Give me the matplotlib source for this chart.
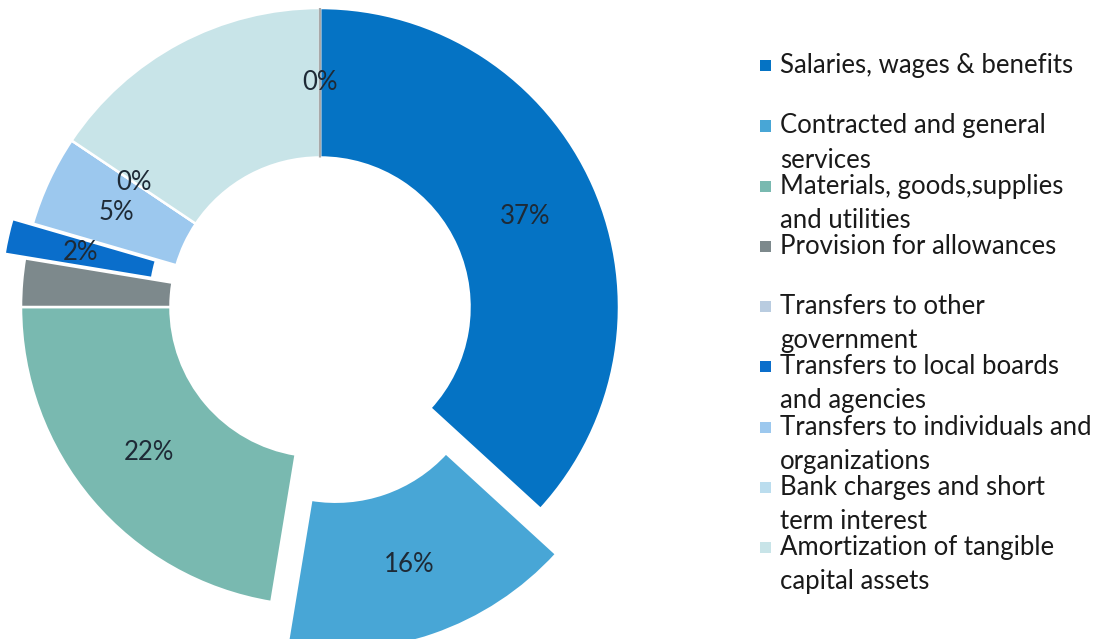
import matplotlib
matplotlib.use('Agg')
import matplotlib.pyplot as plt
from matplotlib.patches import Rectangle
import numpy as np

# ---------------- data ----------------
categories = [
    "Salaries, wages & benefits",
    "Contracted and general\nservices",
    "Materials, goods,supplies\nand utilities",
    "Provision for allowances",
    "Transfers to other\ngovernment",
    "Transfers to local boards\nand agencies",
    "Transfers to individuals and\norganizations",
    "Bank charges and short\nterm interest",
    "Amortization of tangible\ncapital assets",
]
# shares (%)
values = [36.8, 15.8, 22.4, 2.6, 0.0, 1.9, 4.9, 0.0, 15.6]
pct_labels = ["37%", "16%", "22%", "", "0%", "2%", "5%", "0%", ""]
colors = ["#0573C4", "#48A6D6", "#79B9B0", "#7D898C", "#B9CCE0",
          "#0A6ECB", "#9CC8EE", "#BBDDEE", "#C8E4E8"]
explode = [0.0, 0.16, 0.0, 0.0, 0.0, 0.07, 0.0, 0.0, 0.0]
# drawing order of the slices around the ring (clockwise from 12 o'clock)
pie_order = [0, 1, 2, 3, 5, 6, 7, 8, 4]

# ---------------- layout ----------------
W, H = 1102, 639
fig = plt.figure(figsize=(W / 100, H / 100), dpi=100)
fig.patch.set_facecolor("white")

cx, cy, R = 320, H - 307, 299
L = 1.25
ax = fig.add_axes([(cx - L * R) / W, (cy - L * R) / H, 2 * L * R / W, 2 * L * R / H])

wedges, _ = ax.pie(
    [values[i] for i in pie_order],
    colors=[colors[i] for i in pie_order],
    explode=[explode[i] for i in pie_order],
    startangle=90, counterclock=False, radius=1.0,
    wedgeprops=dict(width=0.5, edgecolor="white", linewidth=1.8),
)
# the zero slice at 12 o'clock shows as a thin grey line
wedges[-1].set_edgecolor("#A9A9A9")
wedges[-1].set_linewidth(1.6)

ax.set_xlim(-L, L)
ax.set_ylim(-L, L)
ax.set_aspect("auto")
ax.axis("off")

label_font = "Lato"
for w, i in zip(wedges, pie_order):
    if not pct_labels[i]:
        continue
    th = np.deg2rad((w.theta1 + w.theta2) / 2)
    rr = w.r - w.width / 2
    x = w.center[0] + rr * np.cos(th)
    y = w.center[1] + rr * np.sin(th)
    ax.text(x, y, pct_labels[i], ha="center", va="center", fontsize=18.5,
            family=label_font, color="#1E2A36")

# ---------------- legend ----------------
first_base = 73.3
step = 60.2
line_gap = 34
for k, cat in enumerate(categories):
    yb = H - (first_base + step * k)
    for j, line in enumerate(cat.split("\n")):
        fig.text(780 / W, (yb - line_gap * j) / H, line, ha="left", va="baseline",
                 fontsize=18.5, family=label_font, color="#1A1A1A")
    s = 11
    fig.add_artist(Rectangle(((765 - s / 2) / W, (yb + 7.5 - s / 2) / H), s / W, s / H,
                             transform=fig.transFigure, facecolor=colors[k],
                             edgecolor="none"))

fig.savefig("out.png", dpi=100, facecolor="white")
